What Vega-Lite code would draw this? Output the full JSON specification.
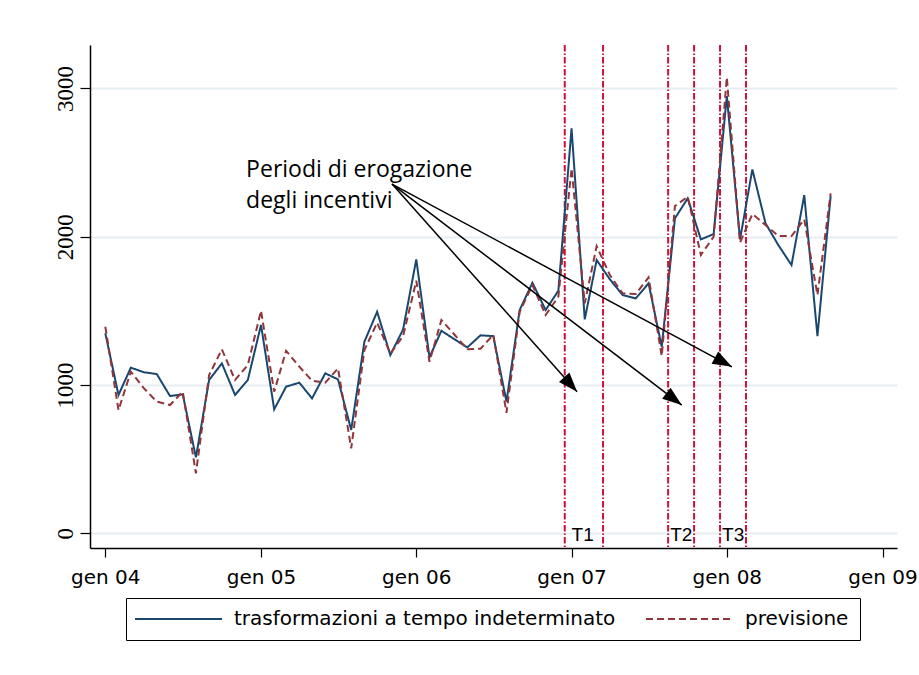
{
  "$schema": "https://vega.github.io/schema/vega-lite/v6.json",
  "width": 807,
  "height": 503,
  "autosize": {"type": "none"},
  "padding": {"left": 90, "top": 45, "right": 22, "bottom": 127},
  "background": "white",
  "config": {"view": {"stroke": null}, "font": "DejaVu Sans"},
  "layer": [
    {
      "data": {"values": [
        {"x": "2006-12-16"}, {"x": "2007-03-16"}, {"x": "2007-08-16"},
        {"x": "2007-10-16"}, {"x": "2007-12-16"}, {"x": "2008-02-15"}
      ]},
      "mark": {"type": "rule", "color": "#d0103a", "strokeWidth": 2, "strokeDash": [6.5, 2, 1.5, 2]},
      "encoding": {"x": {"field": "x", "type": "temporal", "title": null}}
    },
    {
      "data": {"values": [
        {"x": "2004-01-01", "trasformazioni a tempo indeterminato": 1349, "previsione": 1393},
        {"x": "2004-02-01", "trasformazioni a tempo indeterminato": 933, "previsione": 831},
        {"x": "2004-03-01", "trasformazioni a tempo indeterminato": 1117, "previsione": 1090},
        {"x": "2004-04-01", "trasformazioni a tempo indeterminato": 1086, "previsione": 977},
        {"x": "2004-05-01", "trasformazioni a tempo indeterminato": 1074, "previsione": 888},
        {"x": "2004-06-01", "trasformazioni a tempo indeterminato": 926, "previsione": 865},
        {"x": "2004-07-01", "trasformazioni a tempo indeterminato": 937, "previsione": 955},
        {"x": "2004-08-01", "trasformazioni a tempo indeterminato": 512, "previsione": 405},
        {"x": "2004-09-01", "trasformazioni a tempo indeterminato": 1034, "previsione": 1067},
        {"x": "2004-10-01", "trasformazioni a tempo indeterminato": 1146, "previsione": 1241},
        {"x": "2004-11-01", "trasformazioni a tempo indeterminato": 933, "previsione": 1034},
        {"x": "2004-12-01", "trasformazioni a tempo indeterminato": 1034, "previsione": 1135},
        {"x": "2005-01-01", "trasformazioni a tempo indeterminato": 1405, "previsione": 1501},
        {"x": "2005-02-01", "trasformazioni a tempo indeterminato": 836, "previsione": 955},
        {"x": "2005-03-01", "trasformazioni a tempo indeterminato": 989, "previsione": 1231},
        {"x": "2005-04-01", "trasformazioni a tempo indeterminato": 1016, "previsione": 1124},
        {"x": "2005-05-01", "trasformazioni a tempo indeterminato": 910, "previsione": 1029},
        {"x": "2005-06-01", "trasformazioni a tempo indeterminato": 1079, "previsione": 1016},
        {"x": "2005-07-01", "trasformazioni a tempo indeterminato": 1038, "previsione": 1112},
        {"x": "2005-08-01", "trasformazioni a tempo indeterminato": 697, "previsione": 573},
        {"x": "2005-09-01", "trasformazioni a tempo indeterminato": 1292, "previsione": 1236},
        {"x": "2005-10-01", "trasformazioni a tempo indeterminato": 1494, "previsione": 1420},
        {"x": "2005-11-01", "trasformazioni a tempo indeterminato": 1202, "previsione": 1213},
        {"x": "2005-12-01", "trasformazioni a tempo indeterminato": 1375, "previsione": 1330},
        {"x": "2006-01-01", "trasformazioni a tempo indeterminato": 1847, "previsione": 1703},
        {"x": "2006-02-01", "trasformazioni a tempo indeterminato": 1187, "previsione": 1157},
        {"x": "2006-03-01", "trasformazioni a tempo indeterminato": 1366, "previsione": 1438},
        {"x": "2006-04-01", "trasformazioni a tempo indeterminato": 1308, "previsione": 1339},
        {"x": "2006-05-01", "trasformazioni a tempo indeterminato": 1254, "previsione": 1241},
        {"x": "2006-06-01", "trasformazioni a tempo indeterminato": 1335, "previsione": 1245},
        {"x": "2006-07-01", "trasformazioni a tempo indeterminato": 1330, "previsione": 1339},
        {"x": "2006-08-01", "trasformazioni a tempo indeterminato": 888, "previsione": 813},
        {"x": "2006-09-01", "trasformazioni a tempo indeterminato": 1506, "previsione": 1494},
        {"x": "2006-10-01", "trasformazioni a tempo indeterminato": 1690, "previsione": 1674},
        {"x": "2006-11-01", "trasformazioni a tempo indeterminato": 1506, "previsione": 1472},
        {"x": "2006-12-01", "trasformazioni a tempo indeterminato": 1636, "previsione": 1596},
        {"x": "2007-01-01", "trasformazioni a tempo indeterminato": 2731, "previsione": 2461},
        {"x": "2007-02-01", "trasformazioni a tempo indeterminato": 1443, "previsione": 1551},
        {"x": "2007-03-01", "trasformazioni a tempo indeterminato": 1843, "previsione": 1937},
        {"x": "2007-04-01", "trasformazioni a tempo indeterminato": 1713, "previsione": 1742},
        {"x": "2007-05-01", "trasformazioni a tempo indeterminato": 1607, "previsione": 1618},
        {"x": "2007-06-01", "trasformazioni a tempo indeterminato": 1584, "previsione": 1614},
        {"x": "2007-07-01", "trasformazioni a tempo indeterminato": 1686, "previsione": 1726},
        {"x": "2007-08-01", "trasformazioni a tempo indeterminato": 1258, "previsione": 1195},
        {"x": "2007-09-01", "trasformazioni a tempo indeterminato": 2124, "previsione": 2207},
        {"x": "2007-10-01", "trasformazioni a tempo indeterminato": 2259, "previsione": 2270},
        {"x": "2007-11-01", "trasformazioni a tempo indeterminato": 1982, "previsione": 1877},
        {"x": "2007-12-01", "trasformazioni a tempo indeterminato": 2018, "previsione": 2000},
        {"x": "2008-01-01", "trasformazioni a tempo indeterminato": 2949, "previsione": 3075},
        {"x": "2008-02-01", "trasformazioni a tempo indeterminato": 1982, "previsione": 1960},
        {"x": "2008-03-01", "trasformazioni a tempo indeterminato": 2454, "previsione": 2153},
        {"x": "2008-04-01", "trasformazioni a tempo indeterminato": 2090, "previsione": 2079},
        {"x": "2008-05-01", "trasformazioni a tempo indeterminato": 1944, "previsione": 2005},
        {"x": "2008-06-01", "trasformazioni a tempo indeterminato": 1809, "previsione": 2005},
        {"x": "2008-07-01", "trasformazioni a tempo indeterminato": 2281, "previsione": 2117},
        {"x": "2008-08-01", "trasformazioni a tempo indeterminato": 1330, "previsione": 1607},
        {"x": "2008-09-01", "trasformazioni a tempo indeterminato": 2274, "previsione": 2292}
      ]},
      "transform": [{"fold": ["trasformazioni a tempo indeterminato", "previsione"], "as": ["serie", "valore"]}],
      "mark": {"type": "line", "strokeWidth": 2},
      "encoding": {
        "x": {
          "field": "x", "type": "temporal", "title": null,
          "scale": {"type": "utc", "nice": false, "domain": [
            {"year": 2003, "month": 11, "date": 26, "utc": true},
            {"year": 2009, "month": 2, "date": 4, "utc": true}
          ]},
          "axis": {
            "values": [
              {"year": 2004, "month": 1, "date": 1, "utc": true},
              {"year": 2005, "month": 1, "date": 1, "utc": true},
              {"year": 2006, "month": 1, "date": 1, "utc": true},
              {"year": 2007, "month": 1, "date": 1, "utc": true},
              {"year": 2008, "month": 1, "date": 1, "utc": true},
              {"year": 2009, "month": 1, "date": 1, "utc": true}
            ],
            "labelExpr": "'gen ' + utcFormat(datum.value, '%y')",
            "grid": false,
            "domainColor": "black", "domainWidth": 1.5,
            "tickColor": "black", "tickWidth": 1.2, "tickSize": 9,
            "labelFont": "DejaVu Sans", "labelFontSize": 20, "labelColor": "black",
            "labelPadding": 10, "labelOverlap": false, "labelFlush": false, "labelBound": false
          }
        },
        "y": {
          "field": "valore", "type": "quantitative", "title": null,
          "scale": {"domain": [-99, 3293], "nice": false, "zero": false},
          "axis": {
            "values": [0, 1000, 2000, 3000],
            "format": "d",
            "grid": true, "gridColor": "#e6eef1", "gridWidth": 2,
            "domainColor": "black", "domainWidth": 1.5,
            "tickColor": "black", "tickWidth": 1.2, "tickSize": 10,
            "labelAngle": -90, "labelAlign": "center", "labelBaseline": "bottom",
            "labelFont": "Liberation Sans Narrow", "labelFontSize": 23, "labelColor": "black",
            "labelPadding": 3, "labelOverlap": false, "labelFlush": false, "labelBound": false
          }
        },
        "color": {
          "field": "serie", "type": "nominal",
          "scale": {"domain": ["trasformazioni a tempo indeterminato", "previsione"], "range": ["#1a476f", "#90353b"]},
          "legend": {
            "title": null, "orient": "none", "legendX": 36, "legendY": 553, "direction": "horizontal", "columns": 2,
            "symbolType": "M-2.4,0H15", "symbolSize": 100, "symbolStrokeWidth": 2,
            "labelFont": "DejaVu Sans", "labelFontSize": 20, "labelColor": "black", "labelOffset": 77, "labelLimit": 1000,
            "columnPadding": 26, "padding": 11, "strokeColor": "black", "fillColor": "white"
          }
        },
        "strokeDash": {
          "field": "serie", "type": "nominal",
          "scale": {"domain": ["trasformazioni a tempo indeterminato", "previsione"], "range": [[1, 0], [7, 4]]},
          "legend": {
            "title": null, "orient": "none", "legendX": 36, "legendY": 553, "direction": "horizontal", "columns": 2,
            "symbolType": "M-2.4,0H15", "symbolSize": 100, "symbolStrokeWidth": 2,
            "labelFont": "DejaVu Sans", "labelFontSize": 20, "labelColor": "black", "labelOffset": 77, "labelLimit": 1000,
            "columnPadding": 26, "padding": 11, "strokeColor": "black", "fillColor": "white"
          }
        }
      }
    },
    {
      "data": {"values": [
        {"x": "2007-01-27", "y": 0, "t": "T1"},
        {"x": "2007-09-16", "y": 0, "t": "T2"},
        {"x": "2008-01-16", "y": 0, "t": "T3"}
      ]},
      "mark": {"type": "text", "font": "Liberation Sans", "fontSize": 19, "baseline": "middle", "dy": 2, "color": "black"},
      "encoding": {
        "x": {"field": "x", "type": "temporal", "title": null},
        "y": {"field": "y", "type": "quantitative", "title": null},
        "text": {"field": "t"}
      }
    },
    {
      "data": {
        "values": [
          {"x0": "2005-11-05", "y0": 2355, "x": "2007-01-14", "y": 955},
          {"x0": "2005-11-05", "y0": 2355, "x": "2007-09-17", "y": 865},
          {"x0": "2005-11-05", "y0": 2355, "x": "2008-01-13", "y": 1123}
        ],
        "format": {"parse": {"x0": "date", "x": "date"}}
      },
      "transform": [
        {"calculate": "atan2((time(datum.x) - time(datum.x0)) / 86400000 * 0.42541, (datum.y - datum.y0) * 0.14829) * 180 / PI", "as": "ang"}
      ],
      "layer": [
        {
          "mark": {"type": "rule", "color": "black", "strokeWidth": 1.5},
          "encoding": {
            "x": {"field": "x0", "type": "temporal", "title": null},
            "y": {"field": "y0", "type": "quantitative", "title": null},
            "x2": {"field": "x"},
            "y2": {"field": "y"}
          }
        },
        {
          "mark": {"type": "point", "shape": "M0,0L-0.36,1L0.36,1Z", "size": 1500, "filled": true, "color": "black", "opacity": 1, "strokeWidth": 0},
          "encoding": {
            "x": {"field": "x", "type": "temporal", "title": null},
            "y": {"field": "y", "type": "quantitative", "title": null},
            "angle": {"field": "ang", "type": "quantitative", "scale": null}
          }
        }
      ]
    },
    {
      "data": {"values": [{"x": "2004-11-27", "y": 2405, "t": "Periodi di erogazione\ndegli incentivi"}]},
      "mark": {"type": "text", "align": "left", "baseline": "alphabetic", "font": "Open Sans", "fontSize": 23, "lineHeight": 31, "lineBreak": "\n", "color": "black"},
      "encoding": {
        "x": {"field": "x", "type": "temporal", "title": null},
        "y": {"field": "y", "type": "quantitative", "title": null},
        "text": {"field": "t"}
      }
    }
  ]
}
